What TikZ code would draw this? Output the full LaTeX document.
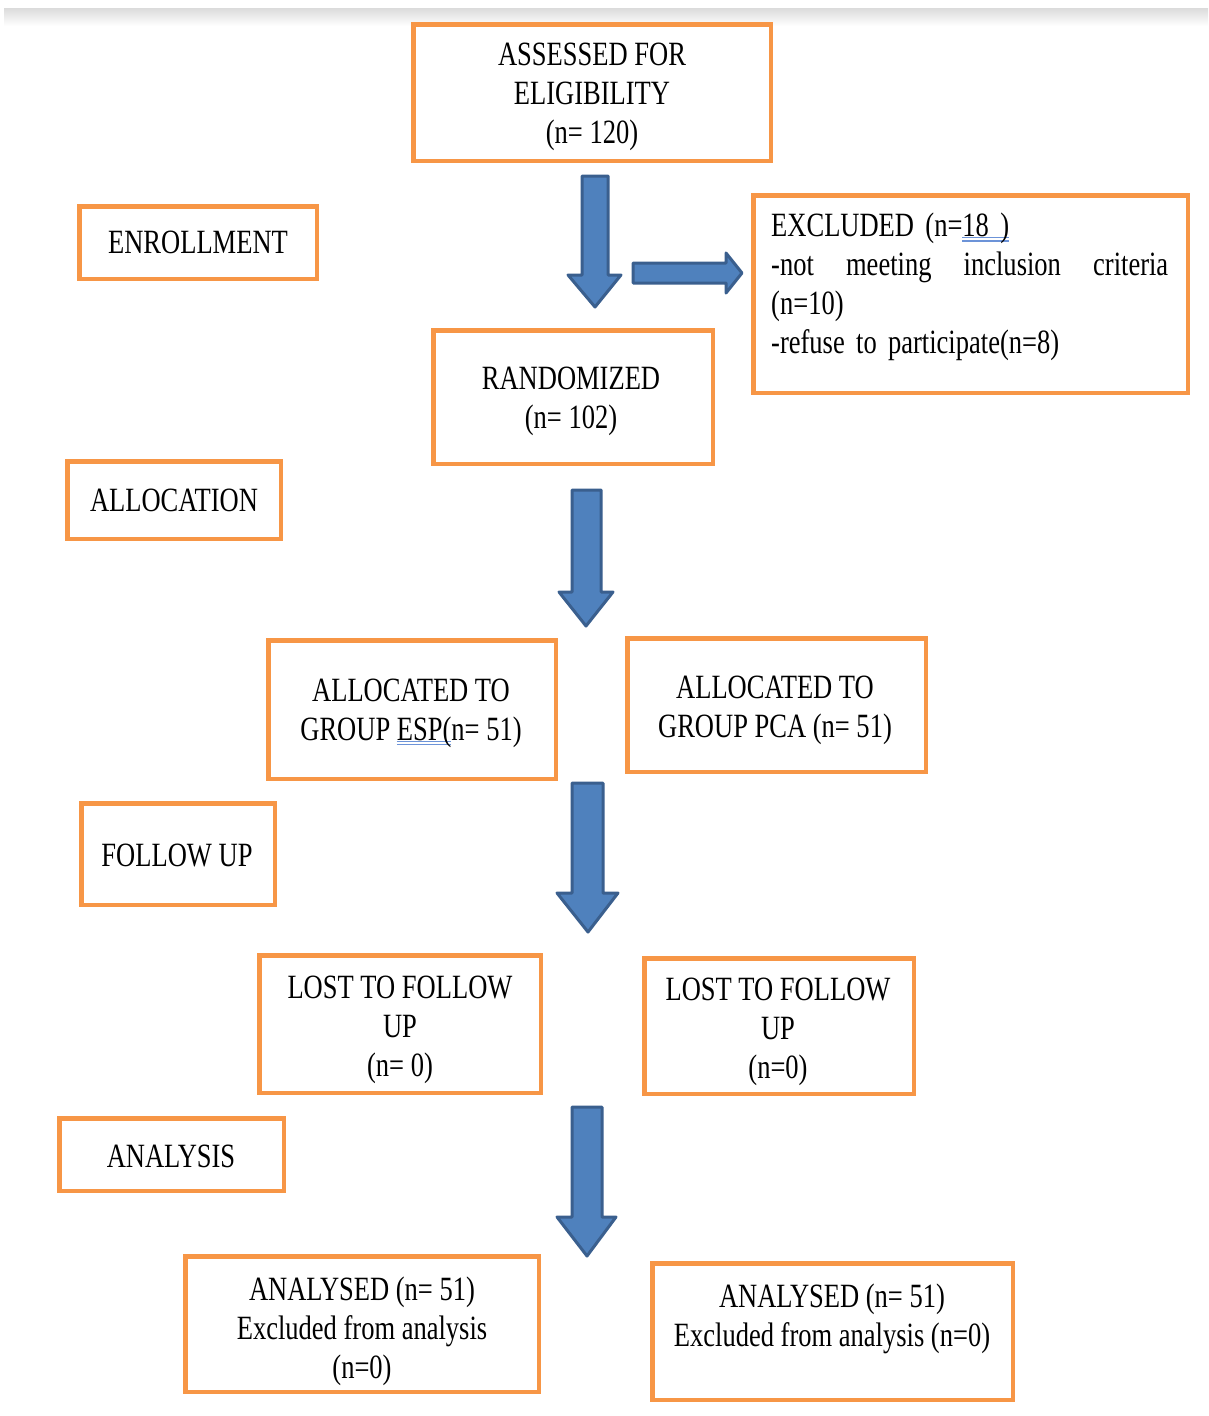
\documentclass[tikz,border=0pt]{standalone}
\usepackage{fontspec}
\setmainfont{Liberation Serif}[FakeStretch=0.78]
\definecolor{boxorange}{HTML}{F79646}
\definecolor{arrfill}{HTML}{4F81BD}
\definecolor{arrdraw}{HTML}{3A5F8E}
\definecolor{spellblue}{HTML}{6C93D8}
\newcommand\spellu[1]{\setbox0=\hbox{#1}\leavevmode\rlap{\color{spellblue}\raisebox{-1.8pt}{\rule{\wd0}{1.4pt}}}\rlap{\color{spellblue}\raisebox{-5pt}{\rule{\wd0}{1.4pt}}}\box0}
\tikzset{
  box/.style={draw=boxorange, line width=4.5pt, fill=white, inner sep=0pt},
  txt/.style={font=\fontsize{34}{39}\selectfont, align=center, inner sep=0pt, text=black},
  blockarrow/.style={fill=arrfill, draw=arrdraw, line width=3pt, line join=round}
}
\begin{document}
\begin{tikzpicture}[x=1pt, y=-1pt]
\useasboundingbox (0,0) rectangle (1208,1416);
\fill[white] (0,0) rectangle (1208,1416);
\shade[top color=black!14, bottom color=white] (4,8) rectangle (1208,26);

% boxes
\node[box, minimum width=357.5pt, minimum height=136.5pt] (assess) at (592,92.5) {};
\node[box, minimum width=237.5pt, minimum height=72.5pt] (enroll) at (198,242.5) {};
\node[box, minimum width=434.5pt, minimum height=197.5pt] (excl) at (970.5,294) {};
\node[box, minimum width=279.5pt, minimum height=133.5pt] (rand) at (573,397) {};
\node[box, minimum width=213.5pt, minimum height=77.5pt] (alloc) at (174,500) {};
\node[box, minimum width=287.5pt, minimum height=138.5pt] (esp) at (412,709.5) {};
\node[box, minimum width=298.5pt, minimum height=133.5pt] (pca) at (776.5,705) {};
\node[box, minimum width=193.5pt, minimum height=101.5pt] (follow) at (178,854) {};
\node[box, minimum width=281.5pt, minimum height=137.5pt] (lostL) at (400,1024) {};
\node[box, minimum width=269.5pt, minimum height=135.5pt] (lostR) at (779,1026) {};
\node[box, minimum width=224.5pt, minimum height=72.5pt] (analysis) at (171.5,1154.5) {};
\node[box, minimum width=353.5pt, minimum height=135.5pt] (anL) at (362,1324) {};
\node[box, minimum width=360.5pt, minimum height=136.5pt] (anR) at (832.5,1331.5) {};

% texts
\node[txt] (assess-t) at (592,96.5) {ASSESSED FOR\\ELIGIBILITY\\(n= 120)};
\node[txt] (enroll-t) at (198,242) {ENROLLMENT};
\node[txt, align=left, text width=397pt, anchor=west] (excl-t) at (771,287)
  {EXCLUDED (n=\spellu{18 )}\\\makebox[\linewidth][s]{-not\hfill meeting\hfill inclusion\hfill criteria}\\(n=10)\\-refuse to participate(n=8)};
\node[txt] (rand-t) at (571,401) {RANDOMIZED\\(n= 102)};
\node[txt] (alloc-t) at (174,500) {ALLOCATION};
\node[txt] (esp-t) at (411,713) {ALLOCATED TO\\GROUP \spellu{ESP(}n= 51)};
\node[txt] (pca-t) at (775,710) {ALLOCATED TO\\GROUP PCA (n= 51)};
\node[txt] (follow-t) at (177,855) {FOLLOW UP};
\node[txt] (lostL-t) at (400,1030) {LOST TO FOLLOW\\UP\\(n= 0)};
\node[txt] (lostR-t) at (778,1032) {LOST TO FOLLOW\\UP\\(n=0)};
\node[txt] (analysis-t) at (171,1156) {ANALYSIS};
\node[txt] (anL-t) at (362,1331) {ANALYSED (n= 51)\\Excluded from analysis\\(n=0)};
\node[txt] (anR-t) at (832,1319) {ANALYSED (n= 51)\\Excluded from analysis (n=0)};

% block arrows
\draw[blockarrow] (582,176) -- (608,176) -- (608,275) -- (621,275) -- (595,307) -- (568,275) -- (582,275) -- cycle;
\draw[blockarrow] (633,263) -- (726,263) -- (726,253) -- (742,273) -- (726,293) -- (726,283) -- (633,283) -- cycle;
\draw[blockarrow] (572,490) -- (601,490) -- (601,592) -- (613,592) -- (586,626) -- (559,592) -- (572,592) -- cycle;
\draw[blockarrow] (572,783) -- (603,783) -- (603,893) -- (618,893) -- (588,932) -- (557,893) -- (572,893) -- cycle;
\draw[blockarrow] (572,1107) -- (602,1107) -- (602,1217) -- (616,1217) -- (587,1256) -- (557,1217) -- (572,1217) -- cycle;
\end{tikzpicture}
\end{document}
